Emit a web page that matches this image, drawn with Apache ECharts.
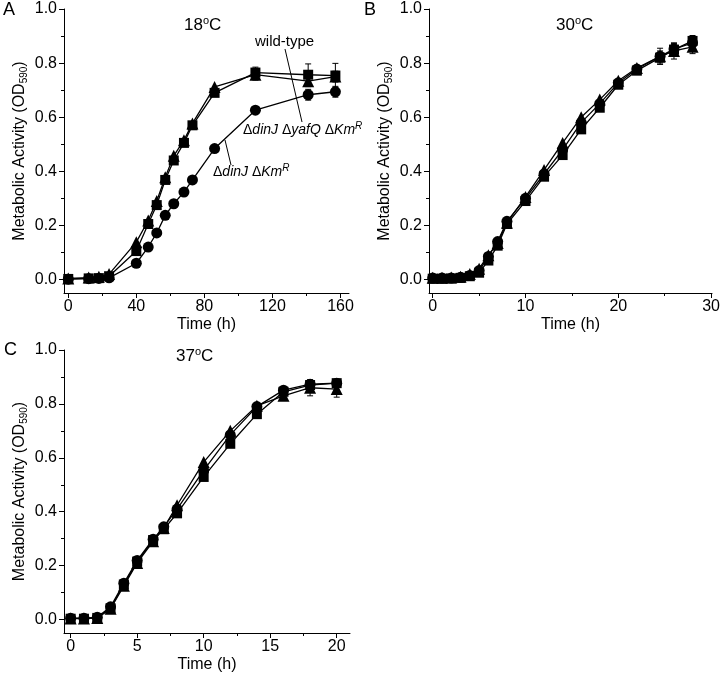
<!DOCTYPE html>
<html><head><meta charset="utf-8">
<script src="https://cdn.jsdelivr.net/npm/echarts@6/dist/echarts.min.js"></script>
<style>html,body{margin:0;padding:0;background:#fff}#c{width:723px;height:674px}</style>
</head><body><div id="c"></div>
<script>
// ---------- data ----------
// Panel A: 18°C
const timeA = [0, 12, 18, 24, 40, 47, 52, 57, 62, 68, 73, 86, 110, 141, 157];
const wtA   = [0.002, 0.004, 0.005, 0.012, 0.105, 0.205, 0.275, 0.368, 0.44, 0.505, 0.57, 0.69, 0.765, 0.757, 0.754];
const triA  = [0.004, 0.007, 0.010, 0.020, 0.138, 0.218, 0.290, 0.378, 0.457, 0.515, 0.577, 0.712, 0.757, 0.733, 0.750];
const cirA  = [0.001, 0.003, 0.004, 0.006, 0.060, 0.120, 0.172, 0.237, 0.280, 0.323, 0.368, 0.484, 0.626, 0.683, 0.694];
const wtErrA  = [0,0,0,0,0,0,0,0,0,0,0,0,0.02,0.04,0.045];
const triErrA = [0,0,0,0,0,0,0,0,0,0,0,0,0.02,0.02,0.02];
const cirErrA = [0,0,0,0,0,0,0,0,0,0,0,0,0,0.02,0.02];
// Panel B: 30°C
const timeB = [0, 1, 2, 3, 4, 5, 6, 7, 8, 10, 12, 14, 16, 18, 20, 22, 24.5, 26, 28];
const wtB   = [0.003,0.003,0.004,0.006,0.012,0.025,0.070,0.125,0.205,0.290,0.380,0.460,0.555,0.635,0.720,0.772,0.820,0.850,0.882];
const triB  = [0.006,0.006,0.007,0.010,0.020,0.040,0.090,0.135,0.210,0.305,0.405,0.505,0.600,0.665,0.735,0.782,0.825,0.845,0.860];
const cirB  = [0.005,0.005,0.005,0.008,0.015,0.033,0.085,0.140,0.215,0.300,0.390,0.480,0.580,0.650,0.727,0.778,0.825,0.852,0.875];
const wtErrB  = [0,0,0,0,0,0,0,0,0,0,0,0,0,0,0,0,0.02,0.02,0.02];
const triErrB = [0,0,0,0,0,0,0,0,0,0,0,0,0,0,0,0,0.02,0.03,0.025];
const cirErrB = [0,0,0,0,0,0,0,0,0,0,0,0,0,0,0,0,0.03,0.02,0.02];
// Panel C: 37°C
const timeC = [0, 1, 2, 3, 4, 5, 6.2, 7, 8, 10, 12, 14, 16, 18, 20];
const wtC   = [0.003,0.003,0.006,0.042,0.130,0.215,0.295,0.335,0.394,0.529,0.652,0.762,0.845,0.870,0.877];
const triC  = [0.004,0.004,0.006,0.040,0.125,0.210,0.290,0.340,0.424,0.584,0.700,0.793,0.830,0.860,0.855];
const cirC  = [0.005,0.005,0.008,0.047,0.135,0.219,0.298,0.344,0.410,0.553,0.685,0.790,0.851,0.873,0.877];
const wtErrC  = [0,0,0,0,0,0,0,0,0,0,0,0,0,0.01,0.01];
const triErrC = [0,0,0,0,0,0,0,0,0,0,0,0,0,0.03,0.03];
const cirErrC = [0,0,0,0,0,0,0,0,0,0,0,0,0,0.01,0.01];

// ticks
const yMajor = [0, 0.2, 0.4, 0.6, 0.8, 1.0];
const yMinor = [0.1, 0.3, 0.5, 0.7, 0.9];
const xMajorA = [0, 40, 80, 120, 160], xMinorA = [20, 60, 100, 140];
const xMajorB = [0, 10, 20, 30],       xMinorB = [5, 15, 25];
const xMajorC = [0, 5, 10, 15, 20],    xMinorC = [2.5, 7.5, 12.5, 17.5];

// ---------- chart ----------
const FONT = '"Liberation Sans", Arial, sans-serif';
const chart = echarts.init(document.getElementById('c'));
const black = '#000';

function xPair(grid, min, max, major, minor) {
  return [{
    type: 'value', gridIndex: grid, min, max, position: 'bottom',
    axisLine: {show: true, onZero: false, lineStyle: {color: black, width: 1}},
    axisTick: {show: true, customValues: major, length: 5, lineStyle: {color: black, width: 1}},
    axisLabel: {customValues: major, color: black, fontSize: 16, fontFamily: FONT, margin: 6},
    splitLine: {show: false},
    name: 'Time (h)', nameLocation: 'middle', nameGap: 24,
    nameTextStyle: {color: black, fontSize: 16, fontFamily: FONT}
  }, {
    type: 'value', gridIndex: grid, min, max, position: 'bottom',
    axisLine: {show: false, onZero: false},
    axisTick: {show: true, customValues: minor, length: 3, lineStyle: {color: black, width: 1}},
    axisLabel: {show: false}, splitLine: {show: false}
  }];
}
function yPair(grid) {
  return [{
    type: 'value', gridIndex: grid, min: -0.05, max: 1.0, position: 'left',
    axisLine: {show: true, onZero: false, lineStyle: {color: black, width: 1}},
    axisTick: {show: true, customValues: yMajor, length: 5, lineStyle: {color: black, width: 1}},
    axisLabel: {customValues: yMajor, color: black, fontSize: 16, fontFamily: FONT, margin: 7,
                formatter: v => Number(v).toFixed(1)},
    splitLine: {show: false},
    name: '{m|Metabolic Activity (OD}{s|590}{m|)}', nameLocation: 'middle', nameGap: 35,
    nameTextStyle: {color: black, fontFamily: FONT, fontSize: 16,
      rich: {m: {fontSize: 16, fontFamily: FONT, color: black, lineHeight: 19},
             s: {fontSize: 10, fontFamily: FONT, color: black, lineHeight: 11, verticalAlign: 'bottom'}}}
  }, {
    type: 'value', gridIndex: grid, min: -0.05, max: 1.0, position: 'left',
    axisLine: {show: false, onZero: false},
    axisTick: {show: true, customValues: yMinor, length: 3, lineStyle: {color: black, width: 1}},
    axisLabel: {show: false}, splitLine: {show: false}
  }];
}

const xAxis = [].concat(xPair(0, -2.5, 165, xMajorA, xMinorA),
                        xPair(1, -0.4, 30.1, xMajorB, xMinorB),
                        xPair(2, -0.5, 21, xMajorC, xMinorC));
const yAxis = [].concat(yPair(0), yPair(1), yPair(2));

function zip(t, v) { return t.map((x, i) => [x, v[i]]); }
function zip3(t, v, e) { return t.map((x, i) => [x, v[i], e[i]]); }

const series = [];
function addPanel(axisIdx, t, sets) {
  sets.forEach(s => {
    series.push({
      type: 'line', xAxisIndex: axisIdx, yAxisIndex: axisIdx,
      data: zip(t, s.v), symbol: s.sym, symbolSize: s.size,
      itemStyle: {color: black}, lineStyle: {color: black, width: 1.3},
      showSymbol: true, animation: false, z: 3
    });
    series.push({
      type: 'custom', xAxisIndex: axisIdx, yAxisIndex: axisIdx,
      data: zip3(t, s.v, s.e), animation: false, z: 2,
      encode: {x: 0, y: 1},
      renderItem: (params, api) => {
        const x = api.value(0), y = api.value(1), e = api.value(2);
        if (!e) return null;
        const top = api.coord([x, y + e]), bot = api.coord([x, y - e]);
        const st = {stroke: black, lineWidth: 1};
        return {type: 'group', children: [
          {type: 'line', shape: {x1: top[0], y1: top[1], x2: bot[0], y2: bot[1]}, style: st},
          {type: 'line', shape: {x1: top[0]-3, y1: top[1], x2: top[0]+3, y2: top[1]}, style: st},
          {type: 'line', shape: {x1: bot[0]-3, y1: bot[1], x2: bot[0]+3, y2: bot[1]}, style: st}
        ]};
      }
    });
  });
}
addPanel(0, timeA, [{v: cirA, e: cirErrA, sym: 'circle', size: 11},
                    {v: wtA, e: wtErrA, sym: 'rect', size: 10},
                    {v: triA, e: triErrA, sym: 'triangle', size: 12}]);
addPanel(2, timeB, [{v: cirB, e: cirErrB, sym: 'circle', size: 11},
                    {v: wtB, e: wtErrB, sym: 'rect', size: 10},
                    {v: triB, e: triErrB, sym: 'triangle', size: 12}]);
addPanel(4, timeC, [{v: cirC, e: cirErrC, sym: 'circle', size: 11},
                    {v: wtC, e: wtErrC, sym: 'rect', size: 10},
                    {v: triC, e: triErrC, sym: 'triangle', size: 12}]);

function txt(x, y, text, size, extra) {
  return Object.assign({type: 'text', x, y, z: 10, style: Object.assign({
    text, fill: black, fontSize: size, fontFamily: FONT, verticalAlign: 'middle'
  }, extra || {})});
}
const sup = {fontSize: 11, fontFamily: FONT, fill: black, verticalAlign: 'top', lineHeight: 19};
const it = {fontSize: 14, fontFamily: FONT, fill: black, fontStyle: 'italic'};
const nm = {fontSize: 14, fontFamily: FONT, fill: black};
const supI = {fontSize: 10, fontFamily: FONT, fill: black, fontStyle: 'italic', verticalAlign: 'top', lineHeight: 18};
const tNum = {fontSize: 17, fontFamily: FONT, fill: black, lineHeight: 19};
const graphic = [
  txt(3, 10, 'A', 18), txt(364, 10, 'B', 18), txt(4, 350, 'C', 18),
  txt(184, 25, '{n|18}{s|o}{n|C}', 17, {rich: {n: tNum, s: sup}}),
  txt(556, 25, '{n|30}{s|o}{n|C}', 17, {rich: {n: tNum, s: sup}}),
  txt(176, 356, '{n|37}{s|o}{n|C}', 17, {rich: {n: tNum, s: sup}}),
  txt(255, 42, 'wild-type', 15),
  txt(243, 130, '{n|Δ}{i|dinJ} {n|Δ}{i|yafQ} {n|Δ}{i|Km}{r|R}', 14, {rich: {n: nm, i: it, r: supI}}),
  txt(213, 172, '{n|Δ}{i|dinJ} {n|Δ}{i|Km}{r|R}', 14, {rich: {n: nm, i: it, r: supI}}),
  {type: 'line', z: 10, shape: {x1: 285, y1: 49, x2: 302, y2: 122}, style: {stroke: black, lineWidth: 1}},
  {type: 'line', z: 10, shape: {x1: 225, y1: 140, x2: 231, y2: 165}, style: {stroke: black, lineWidth: 1}}
];

chart.setOption({
  animation: false,
  backgroundColor: '#fff',
  textStyle: {fontFamily: FONT},
  grid: [
    {left: 64, top: 9, width: 285, height: 284},
    {left: 429, top: 9, width: 284, height: 284},
    {left: 64, top: 350, width: 286, height: 283}
  ],
  xAxis, yAxis, series, graphic
});
</script></body></html>
